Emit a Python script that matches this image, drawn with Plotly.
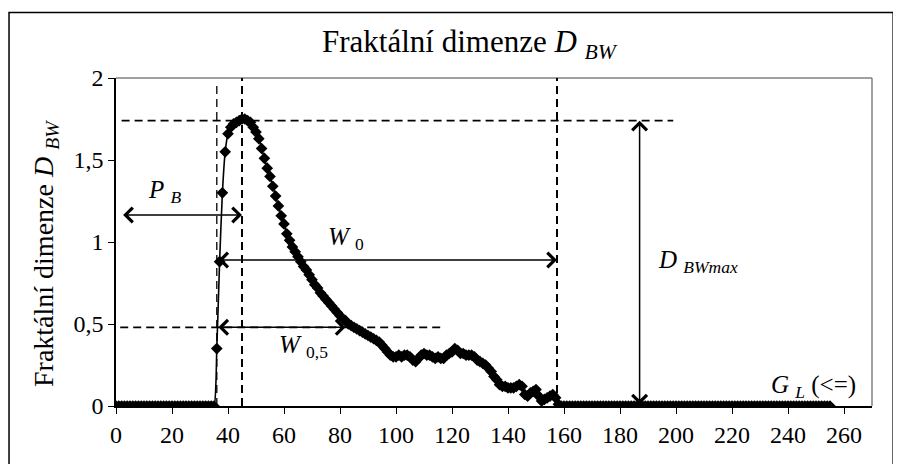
import plotly.graph_objects as go

# ---------------- data ----------------
gray_levels = list(range(256))

lead_zeros = [
    0, 0, 0, 0, 0, 0, 0, 0, 0, 0,
    0, 0, 0, 0, 0, 0, 0, 0, 0, 0,
    0, 0, 0, 0, 0, 0, 0, 0, 0, 0,
    0, 0, 0, 0, 0, 0,
]
peak_values = [
    0.35, 0.88, 1.30, 1.55, 1.66, 1.70, 1.72, 1.73, 1.74, 1.75,
    1.75, 1.74, 1.73, 1.70, 1.67, 1.63, 1.57, 1.51, 1.45, 1.40,
    1.34, 1.28, 1.22, 1.16, 1.11, 1.05, 1.01, 0.97, 0.94, 0.91,
    0.88, 0.85, 0.83, 0.80, 0.77, 0.74, 0.72, 0.69, 0.67, 0.65,
    0.63, 0.61, 0.59, 0.57, 0.55, 0.53, 0.52, 0.50, 0.49, 0.48,
    0.47, 0.46, 0.45, 0.44, 0.43, 0.42, 0.41, 0.40, 0.39, 0.37,
    0.35, 0.33, 0.31, 0.30, 0.30, 0.31, 0.30, 0.31, 0.31, 0.30,
    0.28, 0.27, 0.29, 0.31, 0.32, 0.31, 0.31, 0.30, 0.29, 0.30,
    0.29, 0.29, 0.31, 0.32, 0.33, 0.35, 0.34, 0.32, 0.32, 0.31,
    0.31, 0.31, 0.30, 0.28, 0.27, 0.26, 0.25, 0.23, 0.21, 0.18,
    0.16, 0.13, 0.12, 0.12, 0.11, 0.11, 0.11, 0.12, 0.13, 0.12,
    0.07, 0.06, 0.08, 0.09, 0.10, 0.06, 0.03, 0.04, 0.05, 0.06,
    0.07, 0.05, 0.01,
]
tail_zeros = [
    0, 0, 0, 0, 0, 0, 0, 0, 0, 0,
    0, 0, 0, 0, 0, 0, 0, 0, 0, 0,
    0, 0, 0, 0, 0, 0, 0, 0, 0, 0,
    0, 0, 0, 0, 0, 0, 0, 0, 0, 0,
    0, 0, 0, 0, 0, 0, 0, 0, 0, 0,
    0, 0, 0, 0, 0, 0, 0, 0, 0, 0,
    0, 0, 0, 0, 0, 0, 0, 0, 0, 0,
    0, 0, 0, 0, 0, 0, 0, 0, 0, 0,
    0, 0, 0, 0, 0, 0, 0, 0, 0, 0,
    0, 0, 0, 0, 0, 0, 0,
]
d_bw = lead_zeros + peak_values + tail_zeros

x_tick_vals = [0, 20, 40, 60, 80, 100, 120, 140, 160, 180, 200, 220, 240, 260]
y_tick_vals = [0, 0.5, 1, 1.5, 2]
y_tick_text = ["0", "0,5", "1", "1,5", "2"]

# key quantities marked on the chart
start_gl = 36        # first non-zero gray level
peak_gl = 45         # gray level of maximum
end_gl = 157.5       # last non-zero gray level
d_max = 1.74         # maximum fractal dimension
half_level = 0.48    # half-max level
half_end_gl = 82     # where curve crosses half level
pb_level = 1.165
w0_level = 0.89
dmax_arrow_gl = 187

FONT = "Liberation Serif"
BLACK = "black"

fig = go.Figure()

fig.add_trace(go.Scatter(
    x=gray_levels, y=d_bw, mode="lines+markers",
    line=dict(color=BLACK, width=1.6, shape="spline", smoothing=0.6),
    marker=dict(symbol="diamond", size=9, color=BLACK),
    showlegend=False, hoverinfo="x+y",
))

dash_pat = "8px,5px"
shapes = [
    dict(type="line", xref="paper", yref="paper", x0=0, x1=1, y0=1, y1=1,
         line=dict(color="#808080", width=1.5)),
    dict(type="line", xref="paper", yref="paper", x0=1, x1=1, y0=0, y1=1,
         line=dict(color="#808080", width=1.5)),
    dict(type="rect", xref="paper", yref="paper", x0=-0.1415, x1=1.028, y0=-0.2, y1=1.2,
         line=dict(color=BLACK, width=1.5)),
    dict(type="line", xref="x", yref="y", x0=start_gl, x1=start_gl, y0=0, y1=1.98,
         line=dict(color=BLACK, width=1.3, dash=dash_pat)),
    dict(type="line", xref="x", yref="y", x0=peak_gl, x1=peak_gl, y0=0, y1=2,
         line=dict(color=BLACK, width=2, dash=dash_pat)),
    dict(type="line", xref="x", yref="y", x0=end_gl, x1=end_gl, y0=0, y1=2,
         line=dict(color=BLACK, width=2, dash=dash_pat)),
    dict(type="line", xref="x", yref="y", x0=2, x1=199, y0=d_max, y1=d_max,
         line=dict(color=BLACK, width=1.8, dash=dash_pat)),
    dict(type="line", xref="x", yref="y", x0=1.5, x1=116, y0=half_level, y1=half_level,
         line=dict(color=BLACK, width=1.8, dash=dash_pat)),
]

def double_arrow(x0, y0, x1, y1):
    return dict(x=x1, y=y1, ax=x0, ay=y0, xref="x", yref="y", axref="x", ayref="y",
                text="", showarrow=True, arrowside="end+start",
                arrowhead=4, startarrowhead=4, arrowsize=1.9, startarrowsize=1.9,
                arrowwidth=1.5, arrowcolor=BLACK, standoff=0, startstandoff=0)

def label(x, y, text, size=25):
    return dict(x=x, y=y, xref="x", yref="y", showarrow=False, text=text,
                xanchor="center", yanchor="middle",
                font=dict(family=FONT, size=size, color=BLACK))

annotations = [
    double_arrow(2, pb_level, peak_gl, pb_level),
    double_arrow(start_gl, w0_level, end_gl, w0_level),
    double_arrow(start_gl, half_level, half_end_gl, half_level),
    double_arrow(dmax_arrow_gl, 0, dmax_arrow_gl, d_max),
    label(17.5, 1.31, "<i>P</i> <sub><i>B</i></sub>"),
    label(82, 1.02, "<i>W</i> <sub>0</sub>"),
    label(67, 0.36, "<i>W</i> <sub>0,5</sub>"),
    label(208, 0.88, "<i>D</i> <sub><i>BWmax</i></sub>"),
    label(249, 0.12, "<i>G</i> <sub><i>L</i></sub> (&lt;=)"),
    dict(x=(470 - 116) / 756, y=(406 - 44) / 328, xref="paper", yref="paper", showarrow=False,
         xanchor="center", yanchor="middle",
         text="Fraktální dimenze <i>D</i> <sub><i>BW</i></sub>",
         font=dict(family=FONT, size=31, color=BLACK)),
    dict(x=(45 - 116) / 756, y=(406 - 254) / 328, xref="paper", yref="paper", showarrow=False,
         xanchor="center", yanchor="middle", textangle=-90,
         text="Fraktální dimenze <i>D</i> <sub><i>BW</i></sub>",
         font=dict(family=FONT, size=28, color=BLACK)),
]

# page body adds an 8px margin, so the figure is 8px smaller than the window
fig.update_layout(
    width=893, height=456,
    margin=dict(l=108, r=29, t=70, b=58),
    paper_bgcolor="white", plot_bgcolor="white",
    font=dict(family=FONT, size=24, color=BLACK),
    shapes=shapes, annotations=annotations,
    xaxis=dict(range=[0, 270], tickvals=x_tick_vals, ticks="outside", ticklen=6,
               tickcolor=BLACK, showline=True, linecolor=BLACK, linewidth=1.5,
               showgrid=False, zeroline=False, tickfont=dict(family=FONT, size=24, color=BLACK)),
    yaxis=dict(range=[0, 2], tickvals=y_tick_vals, ticktext=y_tick_text,
               ticks="outside", ticklen=6, tickcolor=BLACK, showline=True,
               linecolor=BLACK, linewidth=1.5, showgrid=False, zeroline=False,
               tickfont=dict(family=FONT, size=24, color=BLACK)),
)

fig.write_html("out.html")
